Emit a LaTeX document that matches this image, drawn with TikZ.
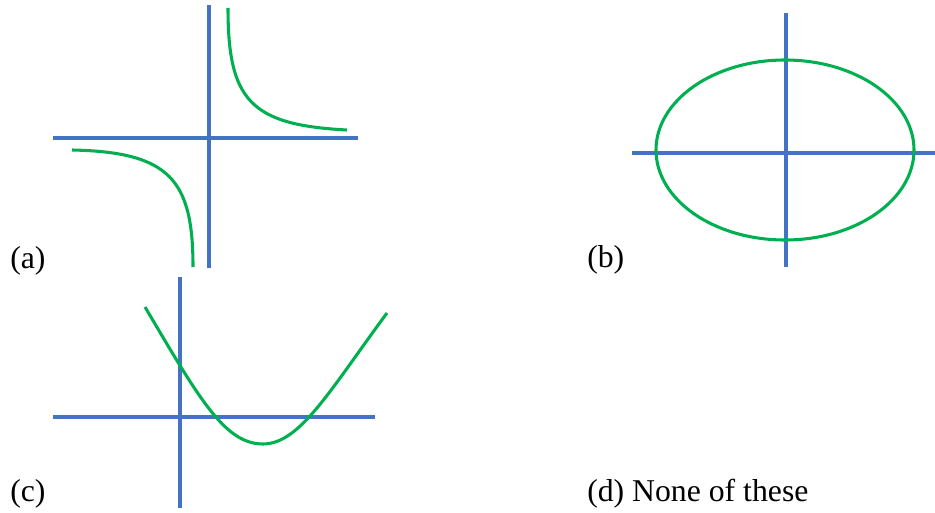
\documentclass[tikz,border=0pt]{standalone}
\usepackage{fontspec}
\setmainfont{Liberation Serif}
\definecolor{axisblue}{HTML}{4472C4}
\definecolor{curvegreen}{HTML}{00B050}
\begin{document}
\begin{tikzpicture}[x=0.75pt,y=-0.75pt,
  axis/.style={draw=axisblue,line width=2.8pt},
  curve/.style={draw=curvegreen,line width=2.3pt},
  lbl/.style={anchor=base west,inner sep=0pt,font=\fontsize{23.8}{28}\selectfont}]
\useasboundingbox[fill=white] (0,0) rectangle (935,513);
% (a)
\draw[axis] (209,5) -- (209,268);
\draw[axis] (53,138) -- (358,138);
\draw[curve] (228,8) .. controls (228,100) and (250,125) .. (347,130);
\draw[curve] (72,150) .. controls (170,152) and (193,180) .. (193,267);
\node[lbl] (la) at (10,269) {(a)};
% (b)
\draw[axis] (786,13) -- (786,267);
\draw[axis] (632,153) -- (935,153);
\draw[curve] (785,150) ellipse [x radius=129, y radius=90];
\node[lbl] (lb) at (587,268) {(b)};
% (c)
\draw[axis] (180,277) -- (180,508);
\draw[axis] (53,417) -- (375,417);
\draw[curve] (145,307) .. controls (200,400) and (225,444) .. (263,444)
  .. controls (300,444) and (330,390) .. (387,313);
\node[lbl] (lc) at (10,501) {(c)};
% (d)
\node[lbl] (ld) at (587,501) {(d) None of these};
\end{tikzpicture}
\end{document}
